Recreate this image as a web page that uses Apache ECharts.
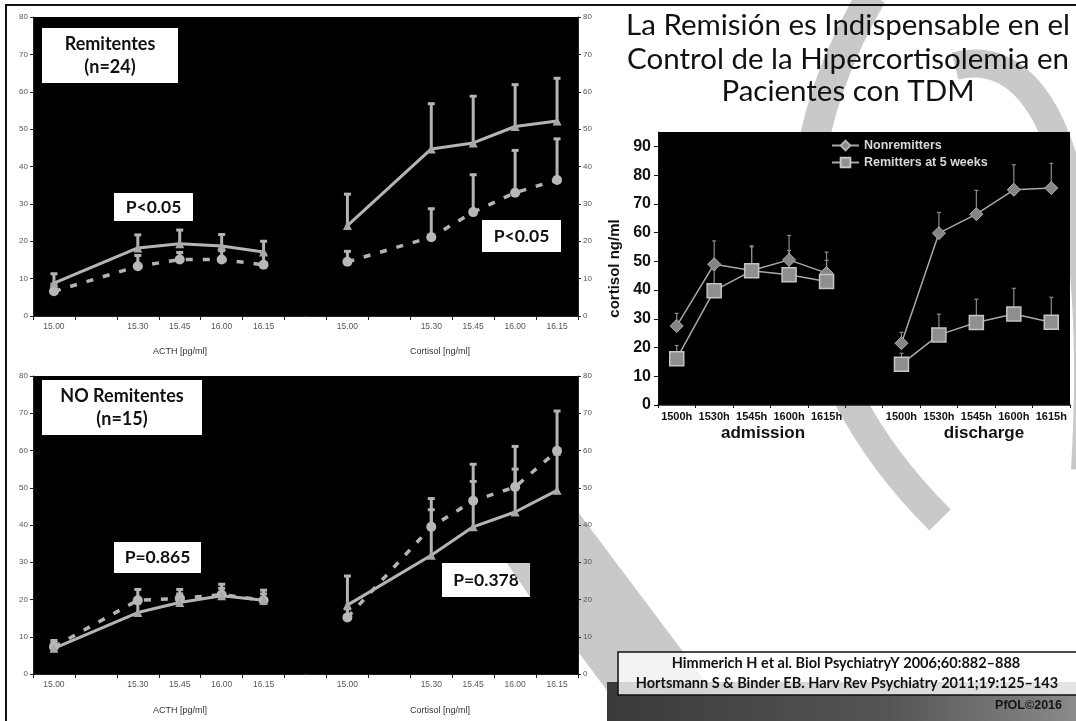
<!DOCTYPE html>
<html><head><meta charset="utf-8">
<script src="https://cdn.jsdelivr.net/npm/echarts@6/dist/echarts.min.js"></script>
<style>html,body{margin:0;padding:0;background:#fff}#c{width:1076px;height:721px}</style>
</head><body><div id="c"></div>
<script>
// ---------- DATA ----------
const timeLabels = ['15.00', '15.30', '15.45', '16.00', '16.15'];
const hourLabels = ['1500h', '1530h', '1545h', '1600h', '1615h'];

// Remitentes (n=24) — ACTH [pg/ml]
const remActhSolid = [8.8, 18.2, 19.3, 18.7, 17.1];
const remActhSolidTop = [11.3, 21.7, 23.0, 21.8, 20.0];
const remActhDashed = [6.6, 13.3, 15.1, 15.1, 13.7];
const remActhDashedTop = [8.5, 16.2, 17.0, 17.5, 16.5];
// Remitentes — Cortisol [ng/ml]
const remCortSolid = [24.2, 44.7, 46.3, 50.7, 52.2];
const remCortSolidTop = [32.6, 56.8, 58.8, 61.9, 63.6];
const remCortDashed = [14.5, 21.1, 27.8, 33.0, 36.4];
const remCortDashedTop = [17.3, 28.7, 37.8, 44.3, 47.4];

// NO Remitentes (n=15) — ACTH
const nrActhSolid = [6.9, 16.5, 19.2, 21.0, 19.8];
const nrActhSolidTop = [8.5, 19.0, 21.5, 23.0, 21.5];
const nrActhDashed = [7.3, 19.8, 20.3, 21.3, 19.8];
const nrActhDashedTop = [9.0, 22.7, 22.7, 24.1, 22.5];
// NO Remitentes — Cortisol
const nrCortSolid = [18.5, 31.9, 39.5, 43.5, 49.3];
const nrCortSolidTop = [26.3, 44.1, 51.7, 55.0, 59.0];
const nrCortDashed = [15.2, 39.5, 46.5, 50.2, 59.9];
const nrCortDashedTop = [17.5, 47.1, 56.3, 61.1, 70.6];

// Right chart: cortisol ng/ml
const nonremAdm = [27.5, 49.0, 46.8, 50.5, 45.9];
const nonremAdmTop = [31.9, 57.1, 55.4, 59.0, 53.2];
const nonremDis = [21.5, 59.8, 66.4, 74.9, 75.5];
const nonremDisTop = [25.3, 67.0, 74.7, 83.6, 84.1];
const remAdm = [16.1, 39.8, 46.7, 45.3, 43.0];
const remAdmTop = [20.7, 47.0, 55.0, 53.8, 50.3];
const remDis = [14.2, 24.4, 28.7, 31.7, 28.8];
const remDisTop = [18.0, 31.6, 36.8, 40.6, 37.5];

// ---------- BUILD ----------
const acthSlots = [0, 2, 3, 4, 5];
const cortSlots = [7, 9, 10, 11, 12];
const leftCats = new Array(13).fill('');
acthSlots.forEach((s, i) => leftCats[s] = timeLabels[i]);
cortSlots.forEach((s, i) => leftCats[s] = timeLabels[i]);
const rightCats = hourLabels.concat([''], hourLabels);

function slotData(slots, vals, n) {
  const d = new Array(n).fill(null);
  slots.forEach((s, i) => d[s] = vals[i]);
  return d;
}
function errData(slots, vals, tops) {
  return slots.map((s, i) => [s, vals[i], tops[i]]);
}
function errSeries(xi, yi, data, color, lw, cap) {
  return {
    type: 'custom', xAxisIndex: xi, yAxisIndex: yi, z: 3,
    data: data, encode: { x: 0, y: [1, 2] },
    renderItem: function (params, api) {
      const x = api.value(0);
      const p0 = api.coord([x, api.value(1)]);
      const p1 = api.coord([x, api.value(2)]);
      return {
        type: 'group', children: [
          { type: 'line', shape: { x1: p0[0], y1: p0[1], x2: p1[0], y2: p1[1] }, style: { stroke: color, lineWidth: lw } },
          { type: 'line', shape: { x1: p1[0] - cap / 2, y1: p1[1], x2: p1[0] + cap / 2, y2: p1[1] }, style: { stroke: color, lineWidth: lw } }
        ]
      };
    }
  };
}
const LG = '#b4b4b4';
function solidLine(xi, yi, data) {
  return { type: 'line', xAxisIndex: xi, yAxisIndex: yi, data: data, connectNulls: true, z: 4,
    symbol: 'triangle', symbolSize: 9, itemStyle: { color: '#a8a8a8' },
    lineStyle: { color: LG, width: 3 } };
}
function dashedLine(xi, yi, data) {
  return { type: 'line', xAxisIndex: xi, yAxisIndex: yi, data: data, connectNulls: true, z: 4,
    symbol: 'circle', symbolSize: 10, itemStyle: { color: '#b8b8b8' },
    lineStyle: { color: LG, width: 3.5, type: [7, 10] } };
}

const smallFont = 'Liberation Sans, Arial, sans-serif';
const slideFont = 'Lato, "Open Sans", sans-serif';
function leftX(gi) {
  return { type: 'category', gridIndex: gi, data: leftCats, boundaryGap: true,
    axisLine: { show: true, lineStyle: { color: '#222', width: 1 } },
    axisTick: { show: true, interval: 0, length: 4, lineStyle: { color: '#222' } },
    axisLabel: { interval: 0, color: '#555', fontSize: 8.5, fontFamily: smallFont, margin: 6 },
    splitLine: { show: false } };
}
function leftY(gi, pos) {
  return { type: 'value', gridIndex: gi, position: pos, min: 0, max: 80, interval: 10,
    axisLine: { show: true, lineStyle: { color: '#222' } },
    axisTick: { show: true, length: 3, lineStyle: { color: '#222' } },
    axisLabel: { color: '#555', fontSize: 8, fontFamily: smallFont, margin: 5 },
    splitLine: { show: false } };
}

const series = [];
// top-left: Remitentes
series.push(errSeries(0, 0, errData(acthSlots, remActhDashed, remActhDashedTop), LG, 3, 7));
series.push(errSeries(0, 0, errData(acthSlots, remActhSolid, remActhSolidTop), LG, 3, 7));
series.push(errSeries(0, 1, errData(cortSlots, remCortDashed, remCortDashedTop), LG, 3, 7));
series.push(errSeries(0, 1, errData(cortSlots, remCortSolid, remCortSolidTop), LG, 3, 7));
series.push(dashedLine(0, 0, slotData(acthSlots, remActhDashed, 13)));
series.push(solidLine(0, 0, slotData(acthSlots, remActhSolid, 13)));
series.push(dashedLine(0, 1, slotData(cortSlots, remCortDashed, 13)));
series.push(solidLine(0, 1, slotData(cortSlots, remCortSolid, 13)));
// bottom-left: NO Remitentes
series.push(errSeries(1, 2, errData(acthSlots, nrActhDashed, nrActhDashedTop), LG, 3, 7));
series.push(errSeries(1, 2, errData(acthSlots, nrActhSolid, nrActhSolidTop), LG, 3, 7));
series.push(errSeries(1, 3, errData(cortSlots, nrCortDashed, nrCortDashedTop), LG, 3, 7));
series.push(errSeries(1, 3, errData(cortSlots, nrCortSolid, nrCortSolidTop), LG, 3, 7));
series.push(dashedLine(1, 2, slotData(acthSlots, nrActhDashed, 13)));
series.push(solidLine(1, 2, slotData(acthSlots, nrActhSolid, 13)));
series.push(dashedLine(1, 3, slotData(cortSlots, nrCortDashed, 13)));
series.push(solidLine(1, 3, slotData(cortSlots, nrCortSolid, 13)));
// right chart
const admSlots = [0, 1, 2, 3, 4], disSlots = [6, 7, 8, 9, 10];
const RG = '#8c8c8c';
series.push(errSeries(2, 4, errData(admSlots, nonremAdm, nonremAdmTop), RG, 1.2, 4));
series.push(errSeries(2, 4, errData(disSlots, nonremDis, nonremDisTop), RG, 1.2, 4));
series.push(errSeries(2, 4, errData(admSlots, remAdm, remAdmTop), RG, 1.2, 4));
series.push(errSeries(2, 4, errData(disSlots, remDis, remDisTop), RG, 1.2, 4));
series.push({ name: 'Nonremitters', type: 'line', xAxisIndex: 2, yAxisIndex: 4, z: 5,
  data: nonremAdm.concat([null], nonremDis), connectNulls: false,
  symbol: 'diamond', symbolSize: 13, itemStyle: { color: '#858585', borderColor: '#b0b0b0', borderWidth: 1 },
  lineStyle: { color: '#a8a8a8', width: 1.5 } });
series.push({ name: 'Remitters at 5 weeks', type: 'line', xAxisIndex: 2, yAxisIndex: 4, z: 5,
  data: remAdm.concat([null], remDis), connectNulls: false,
  symbol: 'rect', symbolSize: 14, itemStyle: { color: '#8f8f8f', borderColor: '#c4c4c4', borderWidth: 1.5 },
  lineStyle: { color: '#a8a8a8', width: 1.5 } });

function box(x, y, w, h, lines, size) {
  const els = [{ type: 'rect', shape: { x: x, y: y, width: w, height: h }, style: { fill: '#fff' }, z: 100 }];
  const lh = h / lines.length;
  lines.forEach((t, i) => els.push({ type: 'text', x: x + w / 2, y: y + (i + 0.5) * lh + (lines.length > 1 ? (i === 0 ? 2 : -2) : 0), z: 101,
    style: { text: t, fill: '#111', font: 'bold ' + size + 'px ' + slideFont, textAlign: 'center', textVerticalAlign: 'middle' } }));
  return els;
}
function txt(x, y, t, font, fill, align) {
  return { type: 'text', x: x, y: y, z: 100, style: { text: t, font: font, fill: fill || '#111', textAlign: align || 'center', textVerticalAlign: 'middle' } };
}

const graphics = [
  // background swooshes
  { type: 'bezierCurve', z: -10, shape: { x1: 872, y1: -5, cpx1: 770, cpy1: 170, cpx2: 780, cpy2: 360, x2: 940, y2: 520 },
    style: { stroke: '#c9c9c9', lineWidth: 30, fill: null } },
  { type: 'bezierCurve', z: -10, shape: { x1: 955, y1: 66, cpx1: 1060, cpy1: 40, cpx2: 1100, cpy2: 220, x2: 1085, y2: 470 },
    style: { stroke: '#c9c9c9', lineWidth: 28, fill: null } },
  { type: 'polygon', z: -10, shape: { points: [[470, 508], [575, 508], [735, 721], [630, 721]] }, style: { fill: '#c9c9c9' } },
  // dark bottom area
  { type: 'rect', z: -5, shape: { x: 607, y: 682, width: 469, height: 39 },
    style: { fill: new echarts.graphic.LinearGradient(0, 0, 1, 0, [{ offset: 0, color: '#3a3a3a' }, { offset: 0.6, color: '#555' }, { offset: 1, color: '#8a8a8a' }]) } },
  // frame lines
  { type: 'line', z: 50, shape: { x1: 5, y1: 5, x2: 1076, y2: 5 }, style: { stroke: '#111', lineWidth: 2 } },
  { type: 'line', z: 50, shape: { x1: 6, y1: 5, x2: 6, y2: 721 }, style: { stroke: '#111', lineWidth: 2 } },
  // axis names (left charts)
  txt(180, 352, 'ACTH [pg/ml]', '9px ' + smallFont, '#333'),
  txt(440, 352, 'Cortisol [ng/ml]', '9px ' + smallFont, '#333'),
  txt(180, 711, 'ACTH [pg/ml]', '9px ' + smallFont, '#333'),
  txt(440, 711, 'Cortisol [ng/ml]', '9px ' + smallFont, '#333'),
  // right chart x names
  txt(763, 433, 'admission', 'bold 17px ' + smallFont, '#111'),
  txt(984, 433, 'discharge', 'bold 17px ' + smallFont, '#111'),
  // title
  txt(848, 25, 'La Remisión es Indispensable en el', '29.5px ' + slideFont, '#111'),
  txt(848, 59, 'Control de la Hipercortisolemia en', '29.5px ' + slideFont, '#111'),
  txt(848, 91, 'Pacientes con TDM', '29.5px ' + slideFont, '#111'),
  // citation
  { type: 'rect', z: 60, shape: { x: 618, y: 652, width: 470, height: 43 }, style: { fill: 'rgba(255,255,255,0.78)', stroke: '#111', lineWidth: 1.5 } },
  txt(846, 663, 'Himmerich H et al. Biol PsychiatryY 2006;60:882–888', 'bold 14.5px ' + slideFont, '#111'),
  txt(847, 683, 'Hortsmann S & Binder EB. Harv Rev Psychiatry 2011;19:125–143', 'bold 14.5px ' + slideFont, '#111'),
  txt(1062, 706, 'PfOL©2016', 'bold 12.5px ' + smallFont, '#151515', 'right')
].concat(
  box(42, 28, 136, 55, ['Remitentes', '(n=24)'], 18),
  box(114, 193, 79, 28, ['P<0.05'], 17.5),
  box(482, 220, 79, 32, ['P<0.05'], 17.5),
  box(42, 380, 160, 55, ['NO Remitentes', '(n=15)'], 18),
  box(114, 542, 87, 31, ['P=0.865'], 17.5),
  box(442, 563, 88, 34, ['P=0.378'], 17.5),
  [{ type: 'polygon', z: 102, shape: { points: [[507, 563], [530, 563], [530, 597]] }, style: { fill: '#c9c9c9' } }]
);

const option = {
  animation: false,
  backgroundColor: '#fff',
  grid: [
    { left: 33, top: 17, width: 545, height: 299, show: true, backgroundColor: '#000', borderWidth: 0 },
    { left: 33, top: 376, width: 545, height: 298, show: true, backgroundColor: '#000', borderWidth: 0 },
    { left: 658, top: 132, width: 412, height: 273, show: true, backgroundColor: '#000', borderWidth: 0 }
  ],
  xAxis: [
    leftX(0), leftX(1),
    { type: 'category', gridIndex: 2, data: rightCats, boundaryGap: true,
      axisLine: { show: true, lineStyle: { color: '#111', width: 1.5 } },
      axisTick: { show: true, interval: 0, length: 3, lineStyle: { color: '#111' } },
      axisLabel: { interval: 0, color: '#111', fontSize: 11, fontWeight: 'bold', fontFamily: smallFont, margin: 6 },
      splitLine: { show: false } }
  ],
  yAxis: [
    leftY(0, 'left'), leftY(0, 'right'), leftY(1, 'left'), leftY(1, 'right'),
    { type: 'value', gridIndex: 2, min: 0, max: 95, interval: 10,
      name: 'cortisol ng/ml', nameLocation: 'middle', nameRotate: 90, nameGap: 36,
      nameTextStyle: { color: '#111', fontSize: 15, fontWeight: 'bold', fontFamily: smallFont },
      axisLine: { show: true, lineStyle: { color: '#111' } },
      axisTick: { show: true, length: 4, lineStyle: { color: '#111' } },
      axisLabel: { color: '#111', fontSize: 16, fontWeight: 'bold', fontFamily: smallFont, margin: 7, showMaxLabel: false },
      splitLine: { show: false } }
  ],
  legend: {
    data: ['Nonremitters', 'Remitters at 5 weeks'], orient: 'vertical', left: 826, top: 134,
    itemWidth: 27, itemHeight: 12, itemGap: 4,
    textStyle: { color: '#d8d8d8', fontSize: 12.5, fontWeight: 'bold', fontFamily: smallFont }
  },
  graphic: graphics,
  series: series
};
const chart = echarts.init(document.getElementById('c'), null, { renderer: 'canvas' });
chart.setOption(option);
</script></body></html>
